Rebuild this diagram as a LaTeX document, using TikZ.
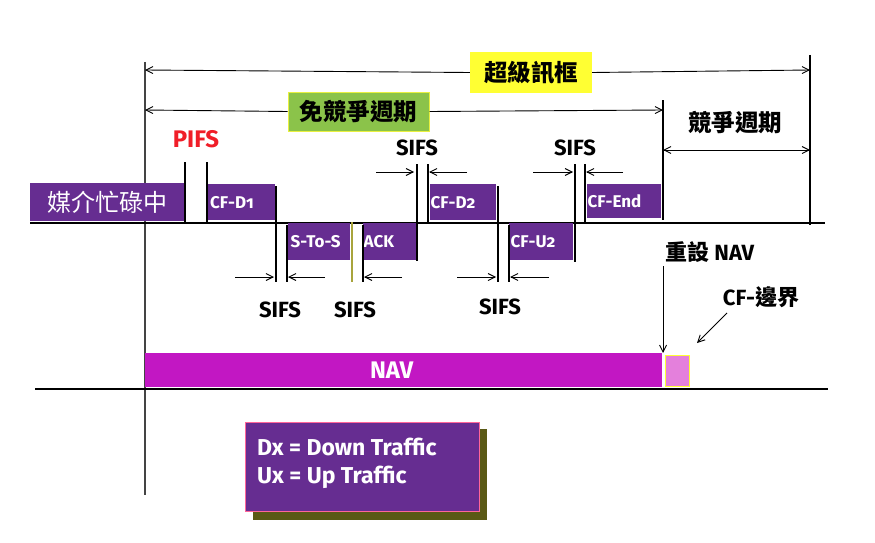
\documentclass[tikz,border=0pt]{standalone}
\usepackage{fontspec}
\setmainfont{Fira Sans}
\newfontfamily\cjk{Noto Sans CJK TC}
\usetikzlibrary{arrows.meta}
\definecolor{pur}{HTML}{662D91}
\definecolor{mag}{HTML}{C217C3}
\definecolor{pnk}{HTML}{E480DC}
\definecolor{yel}{HTML}{FFFF33}
\definecolor{grn}{HTML}{8BC34A}
\definecolor{olv}{HTML}{5A5915}
\definecolor{olvline}{HTML}{A8A43C}
\definecolor{axis}{HTML}{444444}
\begin{document}
\begin{tikzpicture}[x=1pt,y=-1pt,
  >={Straight Barb[length=7pt,width=7pt]},
  conn/.style={->,line width=0.9pt},
  tick/.style={line width=1.1pt},
  fbox/.style={fill=pur,text=white,inner sep=0pt,anchor=north west,font=\bfseries\fontsize{17}{17}\selectfont\addfontfeatures{Numbers=OldStyle}},
  ifs/.style={font=\bfseries\fontsize{22}{22}\selectfont,inner sep=0pt},
  cjklab/.style={font=\cjk\bfseries\fontsize{23.5}{23.5}\selectfont,inner sep=0pt}]
\useasboundingbox (0,0) rectangle (875,543);
% axes
\draw[axis,line width=1.5pt] (145,62) -- (145,495);
\draw[line width=1.2pt] (810,55) -- (810,225);
\draw[line width=1.2pt] (663,100) -- (663,220);
\draw[line width=1.2pt] (30,223) -- (825,223);
\draw[line width=1.2pt] (35,389) -- (828,389);
% superframe
\coordinate (sfL) at (145,70);
\coordinate (sfR) at (810,70);
\node[fill=yel,minimum width=122pt,minimum height=41pt,cjklab] (sf) at (531,72.5) {超級訊框};
\draw[conn] (sf.west) -- (sfL);
\draw[conn] (sf.east) -- (sfR);
% CFP
\coordinate (cfpL) at (145,110);
\coordinate (cfpR) at (663,110);
\node[fill=grn,draw={rgb,255:red,232;green,240;blue,64},line width=1pt,minimum width=141pt,minimum height=39pt,cjklab] (cfp) at (358.5,111.5) {免競爭週期};
\draw[conn] (cfp.west) -- (cfpL);
\draw[conn] (cfp.east) -- (cfpR);
% CP
\node[cjklab] (cp) at (735,123) {競爭週期};
\coordinate (cpL) at (663,150);
\coordinate (cpR) at (810,150);
\draw[conn,<->] (cpL) -- (cpR);
% frames
\node[fill=pur,text=white,inner sep=0pt,anchor=north west,minimum width=155pt,minimum height=38pt,font=\cjk\fontsize{24}{24}\selectfont] (busy) at (30,183) {媒介忙碌中};
\node[fbox,minimum width=68pt,minimum height=36pt,text width=66pt,align=left] (cfd1) at (207,184) {\hspace*{2pt}CF-D1};
\node[fbox,minimum width=62pt,minimum height=37pt,text width=61pt,align=left] (sts) at (288,223) {\hspace*{2pt}S-To-S};
\node[fbox,minimum width=53pt,minimum height=37pt,text width=52pt,align=left] (ack) at (363,223) {\hspace*{0pt}ACK};
\node[fbox,minimum width=66pt,minimum height=36pt,text width=65pt,align=left] (cfd2) at (430,184) {CF-D2};
\node[fbox,minimum width=64pt,minimum height=37pt,text width=63pt,align=left] (cfu2) at (509,223) {\hspace*{1pt}CF-U2};
\node[fbox,minimum width=74pt,minimum height=34pt,text width=73pt,align=left] (cfend) at (587,184) {CF-End};
% ticks
\draw[tick] (185,162) -- (185,222);
\draw[tick] (207,162) -- (207,222);
\draw[tick] (276,186) -- (276,282);
\draw[tick] (287,225) -- (287,282);
\draw[tick,olvline] (352,222) -- (352,282);
\draw[tick] (363,225) -- (363,282);
\draw[tick] (417,164) -- (417,261);
\draw[tick] (428,164) -- (428,222);
\draw[tick] (498,186) -- (498,282);
\draw[tick] (509,225) -- (509,282);
\draw[tick] (575,164) -- (575,262);
\draw[tick] (585,164) -- (585,222);
% SIFS arrows upper
\coordinate (u1a) at (376,172); \coordinate (u1b) at (414,172);
\coordinate (u2a) at (467,172); \coordinate (u2b) at (429,172);
\coordinate (u3a) at (533,172); \coordinate (u3b) at (573,172);
\coordinate (u4a) at (623,172); \coordinate (u4b) at (586,172);
\draw[conn] (u1a) -- (u1b);
\draw[conn] (u2a) -- (u2b);
\draw[conn] (u3a) -- (u3b);
\draw[conn] (u4a) -- (u4b);
% SIFS arrows lower
\coordinate (l1a) at (235,277); \coordinate (l1b) at (274,277);
\coordinate (l2a) at (325,277); \coordinate (l2b) at (288,277);
\coordinate (l3a) at (402,277); \coordinate (l3b) at (364,277);
\coordinate (l4a) at (457,277); \coordinate (l4b) at (496,277);
\coordinate (l5a) at (549,277); \coordinate (l5b) at (510,277);
\draw[conn] (l1a) -- (l1b);
\draw[conn] (l2a) -- (l2b);
\draw[conn] (l3a) -- (l3b);
\draw[conn] (l4a) -- (l4b);
\draw[conn] (l5a) -- (l5b);
% labels
\node[ifs,text={rgb,255:red,240;green,30;blue,40},font=\bfseries\fontsize{24}{24}\selectfont] (pifs) at (196,139) {PIFS};
\node[ifs] (s1) at (417,148) {SIFS};
\node[ifs] (s2) at (575,148) {SIFS};
\node[ifs] (s3) at (280,310) {SIFS};
\node[ifs] (s4) at (355,310) {SIFS};
\node[ifs] (s5) at (500,307) {SIFS};
% NAV
\node[fill=mag,text=white,inner sep=0pt,anchor=north west,minimum width=517pt,minimum height=34pt,font=\bfseries\fontsize{24}{24}\selectfont] (nav) at (145,353) {\hspace*{-24pt}NAV};
\node[fill=pnk,draw=yel,line width=1pt,inner sep=0pt,anchor=north west,minimum width=24pt,minimum height=31pt] (cfb) at (665,355) {};
\node[inner sep=0pt,anchor=west,font=\bfseries\fontsize{22}{22}\selectfont] (reset) at (665,252) {{\cjk\bfseries 重設} NAV};
\coordinate (resetA) at (663,266);
\coordinate (resetB) at (663,353);
\draw[conn] (resetA) -- (resetB);
\node[inner sep=0pt,font=\bfseries\fontsize{22}{22}\selectfont] (cfblab) at (761,297) {CF-{\cjk\bfseries 邊界}};
\coordinate (cfbA) at (727,313);
\coordinate (cfbB) at (697,343);
\draw[conn] (cfbA) -- (cfbB);
% legend
\fill[olv] (253,429) rectangle (487,520);
\node[fill=pur,draw={rgb,255:red,255;green,102;blue,153},line width=1pt,inner sep=0pt,anchor=north west,minimum width=234pt,minimum height=89pt] (legend) at (245,422) {};
\node[text=white,inner sep=0pt,anchor=north west,align=left,font=\bfseries\fontsize{23}{28}\selectfont] (legtext) at (257,438) {Dx = Down Traffic\\Ux = Up Traffic};
\end{tikzpicture}
\end{document}
